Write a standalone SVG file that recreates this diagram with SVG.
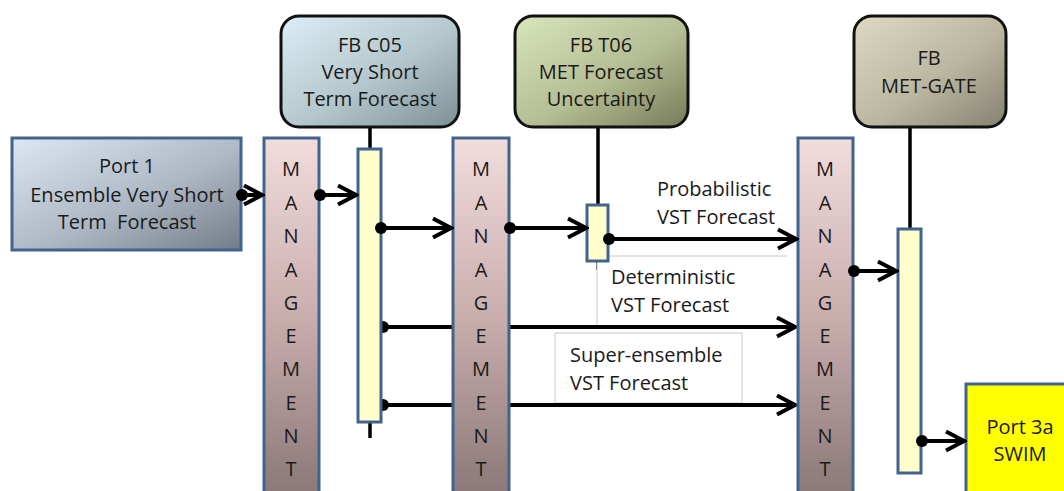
<svg xmlns="http://www.w3.org/2000/svg" width="1064" height="491" viewBox="0 0 1064 491">
<defs>
<linearGradient id="gPort1" x1="0" y1="0" x2="1" y2="1"><stop offset="0" stop-color="#dce7f3"/><stop offset="0.55" stop-color="#aeb8c4"/><stop offset="1" stop-color="#737b86"/></linearGradient>
<linearGradient id="gC05" x1="0" y1="0" x2="1" y2="1"><stop offset="0" stop-color="#dbeef5"/><stop offset="0.55" stop-color="#b3c6cc"/><stop offset="1" stop-color="#7c8f94"/></linearGradient>
<linearGradient id="gT06" x1="0" y1="0" x2="1" y2="1"><stop offset="0" stop-color="#d8e5bd"/><stop offset="0.55" stop-color="#b4bd94"/><stop offset="1" stop-color="#777a58"/></linearGradient>
<linearGradient id="gGate" x1="0" y1="0" x2="1" y2="1"><stop offset="0" stop-color="#ddd9c3"/><stop offset="0.55" stop-color="#bab6a0"/><stop offset="1" stop-color="#858170"/></linearGradient>
<linearGradient id="gMgmt" x1="0" y1="0" x2="0" y2="1"><stop offset="0" stop-color="#f2dcdc"/><stop offset="0.5" stop-color="#c9adad"/><stop offset="1" stop-color="#8a7777"/></linearGradient>
<marker id="arr" markerWidth="22" markerHeight="24" refX="19" refY="12" orient="auto" markerUnits="userSpaceOnUse"><path d="M1,2.5 L19,12 L1,21.5" fill="none" stroke="#000" stroke-width="4" stroke-linejoin="miter"/></marker>
<marker id="dot" markerWidth="14" markerHeight="14" refX="7" refY="7" orient="auto" markerUnits="userSpaceOnUse"><circle cx="7" cy="7" r="6" fill="#000"/></marker>
</defs>
<style>
text{font-family:"Open Sans","Liberation Sans",sans-serif;font-size:20px;fill:#1a1a1a;text-anchor:middle}
.lbl{text-anchor:start}
.fb{stroke:#111;stroke-width:3}
.mg{fill:url(#gMgmt);stroke:#41638f;stroke-width:3}
.act{fill:#ffffcc;stroke:#41638f;stroke-width:3}
.life{stroke:#000;stroke-width:3.5;fill:none}
.con{stroke:#000;stroke-width:4;fill:none}
.lbox{fill:#fff;stroke:#c8c8c8;stroke-width:1}
.ml{font-size:20px}
</style>
<rect width="1064" height="491" fill="#fff"/>

<g id="lifelines">
<line class="life" x1="370" y1="127" x2="370" y2="438"/>
<line class="life" x1="598" y1="127" x2="598" y2="270"/>
<line class="life" x1="910" y1="127" x2="910" y2="230"/>
</g>

<g id="label-boxes">
<path class="lbox" d="M597,325 L597,256 L787,256"/>
<rect class="lbox" x="555" y="333" width="187" height="70"/>
</g>

<g id="connectors">
<line class="con" x1="381" y1="327" x2="795" y2="327" marker-end="url(#arr)"/>
<line class="con" x1="381" y1="405" x2="795" y2="405" marker-end="url(#arr)"/>
<circle cx="383" cy="327" r="6"/>
<circle cx="383" cy="405" r="6"/>
</g>

<g id="port1">
<rect x="12" y="138" width="229" height="112" fill="url(#gPort1)" stroke="#41638f" stroke-width="3"/>
<text x="127" y="173">Port 1</text>
<text x="127" y="202">Ensemble Very Short</text>
<text x="127" y="229" xml:space="preserve">Term  Forecast</text>
</g>

<g id="fb-c05">
<rect class="fb" x="281" y="16" width="178" height="111" rx="18" fill="url(#gC05)"/>
<text x="370" y="52">FB C05</text>
<text x="370" y="79">Very Short</text>
<text x="370" y="106">Term Forecast</text>
</g>

<g id="fb-t06">
<rect class="fb" x="515" y="16" width="173" height="111" rx="18" fill="url(#gT06)"/>
<text x="601" y="52">FB T06</text>
<text x="601" y="79">MET Forecast</text>
<text x="601" y="106">Uncertainty</text>
</g>

<g id="fb-metgate">
<rect class="fb" x="854" y="16" width="152" height="111" rx="18" fill="url(#gGate)"/>
<text x="929" y="65">FB</text>
<text x="929" y="93">MET-GATE</text>
</g>

<g id="c05-activation">
<rect class="act" x="358" y="149" width="23" height="273"/>
</g>

<g id="t06-activation">
<rect class="act" x="587" y="205" width="21" height="56"/>
</g>

<g id="metgate-activation">
<rect class="act" x="898" y="229" width="23" height="244"/>
</g>

<g id="management-1">
<rect class="mg" x="264" y="138" width="55" height="360"/>
<text class="ml" x="291" y="176">M</text><text class="ml" x="291" y="210">A</text><text class="ml" x="291" y="243">N</text><text class="ml" x="291" y="277">A</text><text class="ml" x="291" y="310">G</text><text class="ml" x="291" y="343">E</text><text class="ml" x="291" y="376">M</text><text class="ml" x="291" y="410">E</text><text class="ml" x="291" y="443">N</text><text class="ml" x="291" y="476">T</text>
</g>

<g id="management-2">
<rect class="mg" x="453" y="138" width="56" height="360"/>
<text class="ml" x="481" y="176">M</text><text class="ml" x="481" y="210">A</text><text class="ml" x="481" y="243">N</text><text class="ml" x="481" y="277">A</text><text class="ml" x="481" y="310">G</text><text class="ml" x="481" y="343">E</text><text class="ml" x="481" y="376">M</text><text class="ml" x="481" y="410">E</text><text class="ml" x="481" y="443">N</text><text class="ml" x="481" y="476">T</text>
</g>

<g id="management-3">
<rect class="mg" x="798" y="138" width="55" height="360"/>
<text class="ml" x="825" y="176">M</text><text class="ml" x="825" y="210">A</text><text class="ml" x="825" y="243">N</text><text class="ml" x="825" y="277">A</text><text class="ml" x="825" y="310">G</text><text class="ml" x="825" y="343">E</text><text class="ml" x="825" y="376">M</text><text class="ml" x="825" y="410">E</text><text class="ml" x="825" y="443">N</text><text class="ml" x="825" y="476">T</text>
</g>

<g id="port3a">
<rect x="966" y="384" width="110" height="120" fill="#ffff00" stroke="#41638f" stroke-width="3"/>
<text x="1020" y="434">Port 3a</text>
<text x="1020" y="461">SWIM</text>
</g>

<g id="connectors-top">
<line class="con" x1="242" y1="195" x2="262" y2="195" marker-start="url(#dot)" marker-end="url(#arr)"/>
<line class="con" x1="320" y1="195" x2="356" y2="195" marker-start="url(#dot)" marker-end="url(#arr)"/>
<line class="con" x1="381" y1="228" x2="451" y2="228" marker-start="url(#dot)" marker-end="url(#arr)"/>
<line class="con" x1="510" y1="228" x2="586" y2="228" marker-start="url(#dot)" marker-end="url(#arr)"/>
<line class="con" x1="609" y1="239" x2="796" y2="239" marker-start="url(#dot)" marker-end="url(#arr)"/>
<line class="con" x1="854" y1="271" x2="896" y2="271" marker-start="url(#dot)" marker-end="url(#arr)"/>
<line class="con" x1="922" y1="441" x2="964" y2="441" marker-start="url(#dot)" marker-end="url(#arr)"/>
</g>

<g id="labels">
<text class="lbl" x="657" y="196">Probabilistic</text>
<text class="lbl" x="657" y="224">VST Forecast</text>
<text class="lbl" x="611" y="284">Deterministic</text>
<text class="lbl" x="611" y="312">VST Forecast</text>
<text class="lbl" x="570" y="362">Super-ensemble</text>
<text class="lbl" x="570" y="390">VST Forecast</text>
</g>
</svg>
